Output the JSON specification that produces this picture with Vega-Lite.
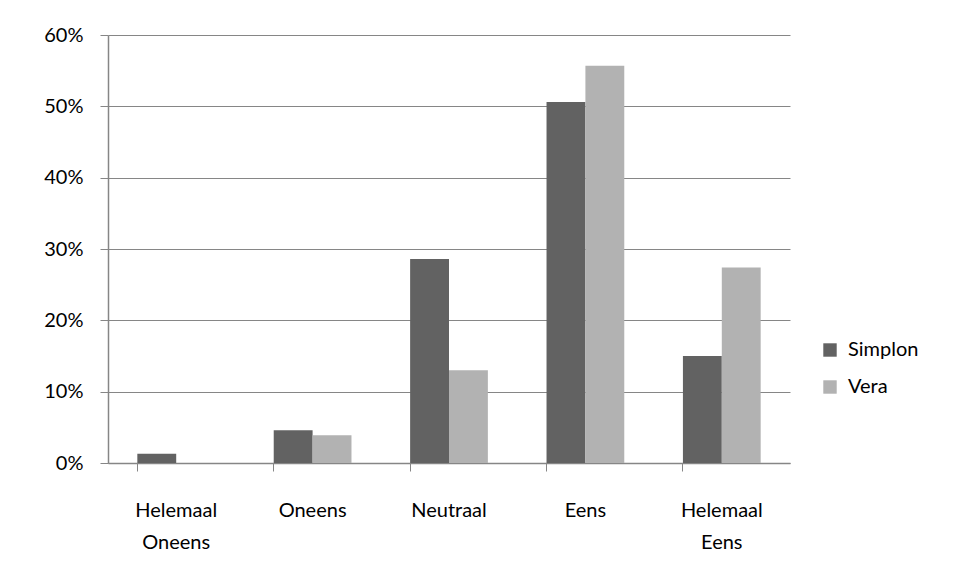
{
  "$schema": "https://vega.github.io/schema/vega-lite/v6.json",
  "width": 682,
  "height": 428,
  "autosize": {"type": "none"},
  "padding": {"left": 108, "top": 35, "right": 169, "bottom": 112},
  "background": "white",
  "config": {
    "view": {"stroke": null},
    "font": "Lato",
    "axis": {"labelFont": "Lato", "labelFontSize": 20, "labelColor": "#000000", "domainColor": "#868686", "tickColor": "#868686", "gridColor": "#868686", "titleFont": "Lato"}
  },
  "data": {
    "values": [
      {"cat": "Helemaal Oneens", "series": "Simplon", "value": 0.013},
      {"cat": "Helemaal Oneens", "series": "Vera", "value": 0.0},
      {"cat": "Oneens", "series": "Simplon", "value": 0.046},
      {"cat": "Oneens", "series": "Vera", "value": 0.039},
      {"cat": "Neutraal", "series": "Simplon", "value": 0.286},
      {"cat": "Neutraal", "series": "Vera", "value": 0.130},
      {"cat": "Eens", "series": "Simplon", "value": 0.506},
      {"cat": "Eens", "series": "Vera", "value": 0.557},
      {"cat": "Helemaal Eens", "series": "Simplon", "value": 0.150},
      {"cat": "Helemaal Eens", "series": "Vera", "value": 0.274}
    ]
  },
  "mark": {"type": "bar"},
  "encoding": {
    "x": {
      "field": "cat",
      "type": "nominal",
      "sort": ["Helemaal Oneens", "Oneens", "Neutraal", "Eens", "Helemaal Eens"],
      "scale": {"paddingInner": 0.43, "paddingOuter": 0.215},
      "axis": {"title": null, "labelAngle": 0, "labelExpr": "split(datum.label, ' ')", "labelPadding": 29, "labelLineHeight": 32, "tickSize": 8, "bandPosition": 0, "domainWidth": 1.5, "labelBaseline": "top"}
    },
    "xOffset": {"field": "series", "type": "nominal", "scale": {"paddingInner": 0, "paddingOuter": 0}},
    "y": {
      "field": "value",
      "type": "quantitative",
      "scale": {"domain": [0, 0.6]},
      "axis": {"title": null, "format": ".0%", "values": [0, 0.1, 0.2, 0.3, 0.4, 0.5, 0.6], "tickSize": 8, "labelPadding": 17, "grid": true, "domainWidth": 1.5}
    },
    "color": {
      "field": "series",
      "type": "nominal",
      "scale": {"domain": ["Simplon", "Vera"], "range": ["#626262", "#B2B2B2"]},
      "legend": {"title": null, "orient": "none", "legendX": 712, "legendY": 305, "symbolType": "square", "symbolSize": 180, "symbolStrokeWidth": 0, "labelFont": "Lato", "labelFontSize": 20, "labelColor": "#000000", "rowPadding": 17, "labelOffset": 8}
    }
  }
}
